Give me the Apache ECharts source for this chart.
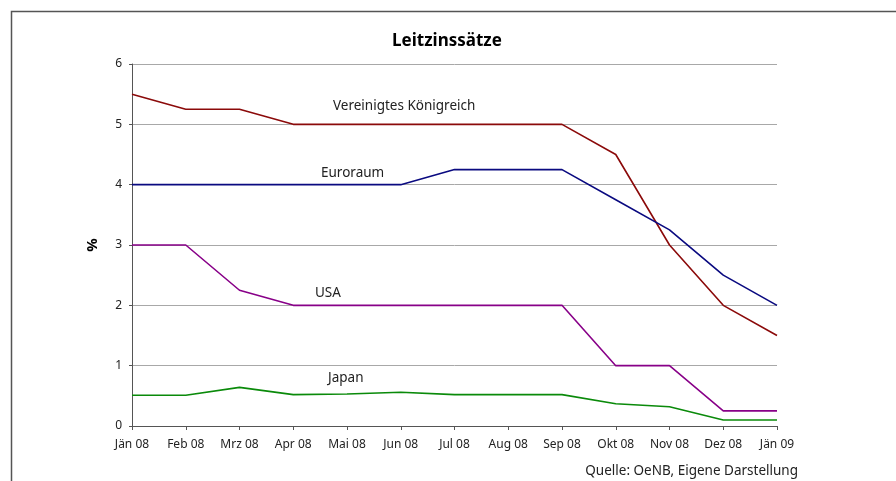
<!DOCTYPE html>
<html><head><meta charset="utf-8">
<script src="https://cdn.jsdelivr.net/npm/echarts@6/dist/echarts.min.js"></script>
<style>html,body{margin:0;padding:0;background:#fff}#c{width:896px;height:481px}</style>
</head><body><div id="c"></div>
<script>
const categories = ['Jän 08','Feb 08','Mrz 08','Apr 08','Mai 08','Jun 08','Jul 08','Aug 08','Sep 08','Okt 08','Nov 08','Dez 08','Jän 09'];
const uk    = [5.5,5.25,5.25,5.0,5.0,5.0,5.0,5.0,5.0,4.5,3.0,2.0,1.5];
const euro  = [4.0,4.0,4.0,4.0,4.0,4.0,4.25,4.25,4.25,3.75,3.25,2.5,2.0];
const usa   = [3.0,3.0,2.25,2.0,2.0,2.0,2.0,2.0,2.0,1.0,1.0,0.25,0.25];
const japan = [0.51,0.51,0.64,0.52,0.53,0.56,0.52,0.52,0.52,0.37,0.32,0.1,0.1];
const yTicks = [0,1,2,3,4,5,6];
const seriesNames = ['Vereinigtes Königreich','Euroraum','USA','Japan'];

const FONT = 'Noto Sans';
const chart = echarts.init(document.getElementById('c'), null, {renderer:'canvas'});
function line(name, data, color){
  return {name, type:'line', data, symbol:'none', smooth:false,
    lineStyle:{color, width:1.6}, itemStyle:{color}, animation:false};
}
const labelStyle = (t,x,y)=>({type:'text', left:x, top:y, style:{text:t, fill:'#222', font:'13.5px "Noto Sans"'}});
chart.setOption({
  animation:false,
  title:{text:'Leitzinssätze', left:442, top:28, textAlign:'center',
    textStyle:{fontFamily:FONT, fontSize:17, fontWeight:'bold', color:'#000'}},
  grid:{left:132, right:119, top:64, bottom:55},
  xAxis:{type:'category', data:categories, boundaryGap:false,
    axisLine:{lineStyle:{color:'#555', width:1}},
    axisTick:{show:true, length:4, alignWithLabel:true, lineStyle:{color:'#555'}},
    axisLabel:{fontFamily:FONT, fontSize:12, color:'#222', margin:13, interval:0},
    splitLine:{show:false}},
  yAxis:{type:'value', min:yTicks[0], max:yTicks[yTicks.length-1], interval:1,
    name:'%', nameLocation:'middle', nameGap:32, nameRotate:90,
    nameTextStyle:{fontFamily:FONT, fontSize:15, fontWeight:'bold', color:'#000'},
    axisLine:{show:true, lineStyle:{color:'#555'}},
    axisTick:{show:true, length:3, lineStyle:{color:'#555'}},
    axisLabel:{fontFamily:FONT, fontSize:12, color:'#222', margin:10},
    splitLine:{lineStyle:{color:'#a8a8a8', width:1}}},
  series:[
    line(seriesNames[0], uk, '#8b0a0a'),
    line(seriesNames[1], euro, '#0a0a80'),
    line(seriesNames[2], usa, '#880088'),
    line(seriesNames[3], japan, '#0a8a0a')
  ],
  graphic:[
    {type:'rect', left:9, top:9, shape:{width:900, height:480}, style:{fill:'none', stroke:'#555', lineWidth:1.5}, silent:true},
    labelStyle(seriesNames[0], 333, 99),
    labelStyle(seriesNames[1], 321, 166),
    labelStyle(seriesNames[2], 315, 286),
    labelStyle(seriesNames[3], 328, 371),
    {type:'text', right:98, top:464, style:{text:'Quelle: OeNB, Eigene Darstellung', fill:'#222', font:'13.5px "Noto Sans"'}}
  ]
});
</script></body></html>
